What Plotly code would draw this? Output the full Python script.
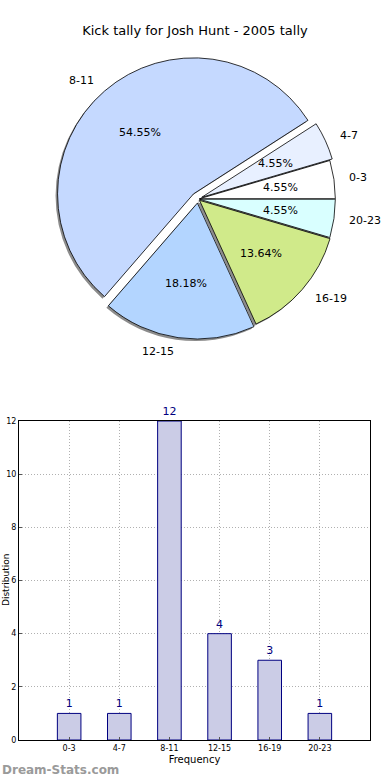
import math
import plotly.graph_objects as go

# ---- data ----
categories = ["0-3", "4-7", "8-11", "12-15", "16-19", "20-23"]
kicks = [1, 1, 12, 4, 3, 1]
title_text = "Kick tally for Josh Hunt - 2005 tally"

# ---- styles ----
slice_colors = ["#ffffff", "#e8f0ff", "#c5d9ff", "#b3d5ff", "#d0ea8a", "#d9ffff"]
pulls = [0.01, 0.03, 0.05, 0.03, 0.015, 0.01]
FONT = "DejaVu Sans"
W, H = 390, 780
cx, cy, r = 198, 199, 136          # pie centre / radius (px)
maxpull = max(pulls)
S = r * (2 + 2 * maxpull)          # plotly: r = S / (2 + 2*maxPull)


def dom(x, y):
    return dict(x=[(x - S / 2) / W, (x + S / 2) / W],
                y=[(H - y - S / 2) / H, (H - y + S / 2) / H])


total = sum(kicks)
rotation = 90 - 360 * kicks[0] / total

fig = go.Figure()

# shadow
fig.add_trace(go.Pie(values=kicks, labels=categories, sort=False,
                     direction="counterclockwise", rotation=rotation,
                     pull=pulls, domain=dom(cx - 2, cy + 2),
                     marker=dict(colors=["#8c8c8c"] * len(kicks),
                                 line=dict(width=0)),
                     textinfo="none", hoverinfo="skip", showlegend=False))
# pie
fig.add_trace(go.Pie(values=kicks, labels=categories, sort=False,
                     direction="counterclockwise", rotation=rotation,
                     pull=pulls, domain=dom(cx, cy),
                     marker=dict(colors=slice_colors,
                                 line=dict(color="black", width=0.8)),
                     textinfo="none", showlegend=False))

# bar chart
fig.add_trace(go.Bar(x=categories, y=kicks, width=0.47,
                     marker=dict(color="#cbcce6",
                                 line=dict(color="#000080", width=1)),
                     text=kicks, textposition="outside",
                     textfont=dict(family=FONT, size=11, color="#000080"),
                     cliponaxis=False, showlegend=False,
                     xaxis="x", yaxis="y"))

# pie text via annotations on an overlay axis in units of the radius
annotations = []
cum = 0
for v, p, lab in zip(kicks, pulls, categories):
    a = math.radians(360 * (cum + v / 2) / total)
    cum += v
    ox, oy = p * math.cos(a), p * math.sin(a)
    annotations.append(dict(
        text=f"{100 * v / total:.2f}%", xref="x3", yref="y3",
        x=ox + 0.6 * math.cos(a), y=oy + 0.6 * math.sin(a),
        xanchor="center", yanchor="middle", showarrow=False,
        font=dict(family=FONT, size=11, color="black")))
    annotations.append(dict(
        text=lab, xref="x3", yref="y3",
        x=ox + 1.1 * math.cos(a), y=oy + 1.1 * math.sin(a),
        xanchor="left" if math.cos(a) > 0 else "right", yanchor="middle",
        showarrow=False, font=dict(family=FONT, size=11, color="black")))

annotations += [
    dict(text="Distribution", textangle=-90, xref="paper", yref="paper",
         x=0, xanchor="left", xshift=-1, y=(H - 580) / H,
         yanchor="middle", showarrow=False,
         font=dict(family=FONT, size=9, color="black")),
    dict(text="<b>Dream-Stats.com</b>", xref="paper", yref="paper",
         x=0, xanchor="left", y=(H - 770) / H, yanchor="middle",
         showarrow=False, font=dict(family=FONT, size=12, color="#9a9a9a")),
]

grid = dict(showgrid=True, gridcolor="#b0b0b0", griddash="1px,2px",
            gridwidth=1)
fig.update_layout(
    width=W, height=H, margin=dict(l=0, r=0, t=0, b=0, autoexpand=False),
    paper_bgcolor="white", plot_bgcolor="white",
    font=dict(family=FONT, color="black"),
    title=dict(text=title_text, x=0.5, xanchor="center", y=1 - 30 / H,
               yanchor="middle", font=dict(size=13, family=FONT)),
    xaxis=dict(domain=[19 / W, 370 / W], anchor="y", range=[-1, 6],
               automargin=False,
               showline=True, mirror=True, linecolor="black", linewidth=1,
               ticks="inside", ticklen=3, tickcolor="#555",
               tickfont=dict(size=8), layer="above traces",
               title=dict(text="Frequency", font=dict(size=10), standoff=4),
               zeroline=False, **grid),
    yaxis=dict(domain=[(H - 740) / H, (H - 421) / H], anchor="x",
               automargin=False,
               range=[0, 12], dtick=2, showline=True, mirror=True,
               linecolor="black", linewidth=1, ticks="inside", ticklen=3,
               tickcolor="#555", tickfont=dict(size=8), layer="above traces",
               zeroline=False, **grid),
    xaxis3=dict(domain=[0, 1], anchor="y3", range=[-cx / r, (W - cx) / r],
                visible=False, fixedrange=True),
    yaxis3=dict(domain=[0.5, 1], anchor="x3",
                range=[(cy - H / 2) / r, cy / r],
                visible=False, fixedrange=True),
    annotations=annotations,
)

fig.write_html(
    "out.html",
    config={"displayModeBar": False},
    post_script="document.body.style.margin='0';"
                "document.body.style.overflow='hidden';",
)
